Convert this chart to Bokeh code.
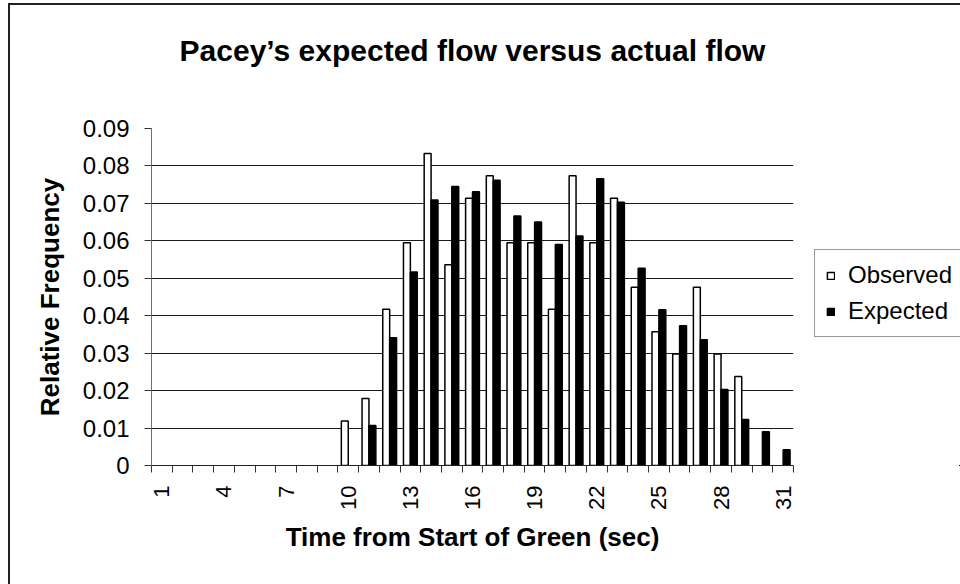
import math
from bokeh.plotting import figure
from bokeh.models import (ColumnDataSource, FixedTicker, CustomJSTickFormatter,
                          Legend, LegendItem, Range1d, Row, Title)
from bokeh.embed import file_html
from bokeh.resources import INLINE

# ---- data ----
seconds = list(range(1, 32))
observed = [0, 0, 0, 0, 0, 0, 0, 0, 0, 0.0119,
            0.0179, 0.0417, 0.0595, 0.0833, 0.0536, 0.0714, 0.0774, 0.0595, 0.0595, 0.0417,
            0.0774, 0.0595, 0.0714, 0.0476, 0.0357, 0.0298, 0.0476, 0.0298, 0.0238, 0, 0]
expected = [0, 0, 0, 0, 0, 0, 0, 0, 0, 0,
            0.0107, 0.0341, 0.0517, 0.0709, 0.0745, 0.0731, 0.0762, 0.0666, 0.0650, 0.0590,
            0.0613, 0.0766, 0.0703, 0.0527, 0.0416, 0.0373, 0.0336, 0.0203, 0.0123, 0.0090, 0.0042]
x_tick_labels = [1, 4, 7, 10, 13, 16, 19, 22, 25, 28, 31]
y_ticks = [0, 0.01, 0.02, 0.03, 0.04, 0.05, 0.06, 0.07, 0.08, 0.09]
series_names = ["Observed", "Expected"]
title_text = "Pacey\u2019s expected flow versus actual flow"

FONT = "Liberation Sans"
BAR_W = 1 / 3
H = 579
MAIN_W = 791
LEG_W = 159

obs_x = [s - BAR_W / 2 for s, v in zip(seconds, observed) if v > 0]
obs_v = [v for v in observed if v > 0]
exp_x = [s + BAR_W / 2 for s, v in zip(seconds, expected) if v > 0]
exp_v = [v for v in expected if v > 0]
src_obs = ColumnDataSource(dict(x=obs_x, top=obs_v))
src_exp = ColumnDataSource(dict(x=exp_x, top=exp_v))

p = figure(width=MAIN_W, height=H, output_backend="svg", toolbar_location=None,
           x_range=Range1d(seconds[0] - 0.5, seconds[-1] + 0.5),
           y_range=Range1d(y_ticks[0], y_ticks[-1]),
           min_border_left=141, min_border_right=8, min_border_top=123, min_border_bottom=119)
p.outline_line_color = None
p.background_fill_color = "white"
p.border_fill_color = "white"

# spacer between plot area and title (inner title slot)
p.add_layout(Title(text=" ", text_font_size="10px", standoff=47), "above")

# title (outer slot)
p.title.text = title_text
p.title.align = "center"
p.title.vertical_align = "top"
p.title.standoff = 0
p.title.text_font = FONT
p.title.text_font_size = "30px"
p.title.text_font_style = "bold"
p.title.text_color = "black"

r_obs = p.vbar(x="x", top="top", width=BAR_W, source=src_obs,
               fill_color="white", line_color="black", line_width=1.5)
r_exp = p.vbar(x="x", top="top", width=BAR_W, source=src_exp,
               fill_color="black", line_color="black", line_width=1.5)

# y axis
yax = p.yaxis[0]
yax.ticker = FixedTicker(ticks=y_ticks)
yax.formatter = CustomJSTickFormatter(code="return tick == 0 ? '0' : tick.toFixed(2);")
yax.major_tick_out = 7
yax.major_tick_in = 0
yax.minor_tick_out = 0
yax.minor_tick_in = 0
yax.axis_line_color = "#707070"
yax.major_tick_line_color = "#333333"
yax.major_label_text_font = FONT
yax.major_label_text_font_size = "24px"
yax.major_label_text_color = "black"
yax.major_label_standoff = 15
yax.axis_label = "Relative Frequency"
yax.axis_label_text_font = FONT
yax.axis_label_text_font_size = "26px"
yax.axis_label_text_font_style = "bold"
yax.axis_label_text_color = "black"
yax.axis_label_standoff = 15

# x axis
xax = p.xaxis[0]
boundaries = [s - 0.5 for s in seconds] + [seconds[-1] + 0.5]
xax.ticker = FixedTicker(ticks=x_tick_labels, minor_ticks=boundaries)
xax.major_tick_out = 0
xax.major_tick_in = 0
xax.minor_tick_out = 7
xax.minor_tick_in = 0
xax.minor_tick_line_color = "#333333"
xax.axis_line_color = "#222222"
xax.major_label_orientation = math.pi / 2
xax.major_label_text_font = FONT
xax.major_label_text_font_size = "22px"
xax.major_label_text_color = "black"
xax.major_label_standoff = 13
xax.axis_label = "Time from Start of Green (sec)"
xax.axis_label_text_font = FONT
xax.axis_label_text_font_size = "26px"
xax.axis_label_text_font_style = "bold"
xax.axis_label_text_color = "black"
xax.axis_label_standoff = 9

# grid
p.xgrid.visible = False
p.ygrid.ticker = FixedTicker(ticks=y_ticks[1:-1])
p.ygrid.grid_line_color = "#1a1a1a"
p.ygrid.grid_line_width = 1

# legend panel: a small companion figure to the right of the plot; its
# glyph renderers share the data but lie far outside its (empty) view
q = figure(width=LEG_W, height=H, output_backend="svg", toolbar_location=None, title=None,
           x_axis_location=None, y_axis_location=None,
           x_range=Range1d(-100, -99), y_range=Range1d(10, 11),
           min_border_left=0, min_border_right=0, min_border_top=0, min_border_bottom=0)
q.outline_line_color = None
q.background_fill_color = "white"
q.border_fill_color = "white"
q.xgrid.visible = False
q.ygrid.visible = False
l_obs = q.vbar(x="x", top="top", width=BAR_W, source=src_obs,
               fill_color="white", line_color="black", line_width=1.5)
l_exp = q.vbar(x="x", top="top", width=BAR_W, source=src_exp,
               fill_color="black", line_color="black", line_width=1.5)
legend = Legend(items=[LegendItem(label=series_names[0], renderers=[l_obs]),
                       LegendItem(label=series_names[1], renderers=[l_exp])],
                location=(13, 128), margin=0, padding=11, spacing=8,
                glyph_width=9, glyph_height=9, label_standoff=13,
                label_text_font=FONT, label_text_font_size="24px",
                label_text_color="black", border_line_color="#333333",
                border_line_width=1, background_fill_color="white",
                background_fill_alpha=1.0)
q.add_layout(legend, "center")

layout = Row(children=[p, q], spacing=0)
layout.styles = {"margin-top": "3px", "margin-left": "8px", "background-color": "white",
                 "border-left": "2px solid #222", "border-top": "2px solid #222"}

open("out.html", "w").write(file_html(layout, INLINE))
